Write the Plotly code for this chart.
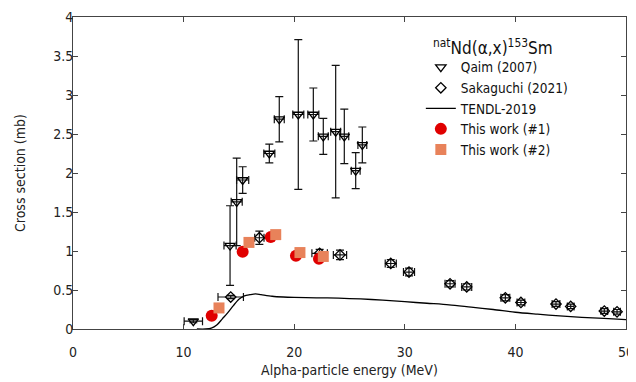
import plotly.graph_objects as go

# Qaim (2007)
qaim_x = [10.88, 14.2, 14.8, 15.34, 17.75, 18.65, 20.37, 21.73, 22.63, 23.75, 24.53, 25.56, 26.16]
qaim_y = [0.10, 1.07, 1.63, 1.91, 2.25, 2.69, 2.75, 2.75, 2.47, 2.53, 2.47, 2.03, 2.36]
qaim_yerr = [0.02, 0.51, 0.56, 0.17, 0.12, 0.29, 0.96, 0.34, 0.23, 0.85, 0.35, 0.23, 0.23]
qaim_xerr = [0.83, 0.55, 0.5, 0.55, 0.5, 0.45, 0.5, 0.5, 0.45, 0.45, 0.4, 0.4, 0.4]

# Sakaguchi (2021)
sak_x = [14.26, 16.85, 22.3, 24.14, 28.73, 30.38, 34.09, 35.6, 39.09, 40.5, 43.67, 45.0, 48.04, 49.19]
sak_y = [0.41, 1.17, 0.97, 0.95, 0.84, 0.73, 0.58, 0.54, 0.40, 0.34, 0.32, 0.29, 0.23, 0.22]
sak_yerr = [0.02, 0.085, 0.05, 0.06, 0.05, 0.05, 0.04, 0.04, 0.04, 0.03, 0.03, 0.03, 0.03, 0.03]
sak_xerr = [1.15, 0.42, 0.7, 0.6, 0.5, 0.5, 0.45, 0.45, 0.4, 0.35, 0.35, 0.3, 0.3, 0.3]

# TENDL-2019
tendl_x = [11.2, 12.0, 12.5, 13.0, 13.5, 14.0, 14.5, 15.0, 15.5, 16.0, 16.5, 17.0, 18.0, 19.0,
           20.0, 22.0, 24.0, 26.0, 28.0, 30.0, 32.0, 34.0, 36.0, 38.0, 40.0, 42.0, 44.0, 46.0, 48.0, 50.0]
tendl_y = [0.0, 0.0, 0.01, 0.05, 0.13, 0.21, 0.30, 0.38, 0.425, 0.44, 0.45, 0.44, 0.42, 0.41,
           0.405, 0.40, 0.395, 0.385, 0.37, 0.35, 0.33, 0.31, 0.28, 0.25, 0.215, 0.19, 0.167, 0.15, 0.135, 0.12]

# This work
w1_x = [12.54, 15.34, 17.88, 20.16, 22.24]
w1_y = [0.17, 0.99, 1.18, 0.94, 0.90]
w2_x = [13.2, 15.91, 18.33, 20.52, 22.63]
w2_y = [0.27, 1.11, 1.21, 0.98, 0.93]

FONT = "DejaVu Sans Condensed, DejaVu Sans, sans-serif"
ERR = dict(color="#111111", thickness=1.2, width=4)

fig = go.Figure()
fig.add_trace(go.Scatter(
    x=qaim_x, y=qaim_y, mode="markers", name="Qaim (2007)",
    marker=dict(symbol="triangle-down-open", size=9, color="black", line=dict(width=1.3)),
    error_y=dict(type="data", array=qaim_yerr, **ERR),
    error_x=dict(type="data", array=qaim_xerr, **ERR),
))
fig.add_trace(go.Scatter(
    x=sak_x, y=sak_y, mode="markers", name="Sakaguchi (2021)",
    marker=dict(symbol="diamond-open", size=8, color="black", line=dict(width=1.3)),
    error_y=dict(type="data", array=sak_yerr, **ERR),
    error_x=dict(type="data", array=sak_xerr, **ERR),
))
fig.add_trace(go.Scatter(
    x=tendl_x, y=tendl_y, mode="lines", name="TENDL-2019",
    line=dict(color="black", width=1.3, shape="spline", smoothing=0.8),
))
fig.add_trace(go.Scatter(
    x=w1_x, y=w1_y, mode="markers", name="This work (#1)",
    marker=dict(symbol="circle", size=12, color="#e00000"),
))
fig.add_trace(go.Scatter(
    x=w2_x, y=w2_y, mode="markers", name="This work (#2)",
    marker=dict(symbol="square", size=11, color="#e8825a"),
))

axis_common = dict(
    showline=True, mirror="ticks", linecolor="#444444", linewidth=1,
    ticks="inside", ticklen=5, tickcolor="#444444", showgrid=False, zeroline=False,
    tickfont=dict(family=FONT, size=14, color="#222222"), automargin=False,
    ticklabeloverflow="allow",
)
fig.update_xaxes(range=[0, 50], dtick=10, tick0=0, ticklabelstandoff=10,
                 title=dict(text="Alpha-particle energy (MeV)", font=dict(family=FONT, size=14, color="#222222"), standoff=6),
                 **axis_common)
fig.update_yaxes(range=[0, 4], dtick=0.5, tick0=0, ticklabelstandoff=-4,
                 **axis_common)

fig.add_annotation(
    x=-0.0958, y=0.5, xref="paper", yref="paper", showarrow=False,
    xanchor="center", yanchor="middle", textangle=-90,
    text="Cross section (mb)",
    font=dict(family=FONT, size=14, color="#222222"),
)
fig.add_annotation(
    x=0.76, y=0.904, xref="paper", yref="paper", showarrow=False,
    xanchor="center", yanchor="middle",
    text="<sup>nat</sup>Nd(α,x)<sup>153</sup>Sm",
    font=dict(family=FONT, size=17, color="#111111"),
)

# page body has an 8px margin: figure offset/sized so the plot area lands where the reference has it
fig.update_layout(
    width=628, height=374,
    margin=dict(l=65, r=10, t=9, b=53),
    paper_bgcolor="white", plot_bgcolor="white",
    font=dict(family=FONT, size=14, color="#222222"),
    legend=dict(x=0.629, y=0.888, xanchor="left", yanchor="top",
                bgcolor="rgba(0,0,0,0)", font=dict(family=FONT, size=13.5, color="#111111"),
                itemwidth=30, tracegroupgap=0),
    showlegend=True,
)

fig.write_html("out.html")
